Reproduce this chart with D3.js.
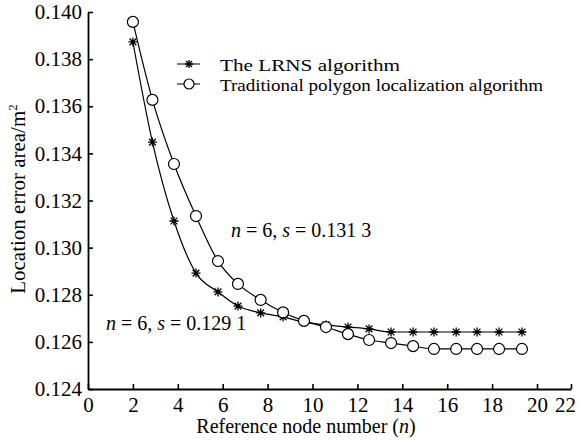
<!DOCTYPE html>
<html>
<head>
<meta charset="utf-8">
<script src="https://cdn.jsdelivr.net/npm/d3@7"></script>
<style>
  body { margin: 0; background: #fff; }
  text { font-family: "Liberation Serif", "Times New Roman", Times, serif; fill: #000; }
</style>
</head>
<body>
<svg class="svg"></svg>
<script>
// values
const nodeNumber = [2, 2.87, 3.83, 4.81, 5.79, 6.68, 7.69, 8.69, 9.62, 10.6, 11.58, 12.52, 13.5, 14.48, 15.41, 16.4, 17.33, 18.31, 19.33];
const lrnsError = [0.13873, 0.13448, 0.13113, 0.12892, 0.12812, 0.12752, 0.12723, 0.12706, 0.12684, 0.12672, 0.12663, 0.12655, 0.12642, 0.12642, 0.12642, 0.12642, 0.12642, 0.12642, 0.12642];
const polygonError = [0.13958, 0.13627, 0.13355, 0.13134, 0.12943, 0.12846, 0.12778, 0.12725, 0.12689, 0.12663, 0.12633, 0.12608, 0.12595, 0.12582, 0.1257, 0.1257, 0.1257, 0.1257, 0.1257];
const xTicks = [0, 2, 4, 6, 8, 10, 12, 14, 16, 18, 20, 22];
const yTicks = [0.124, 0.126, 0.128, 0.130, 0.132, 0.134, 0.136, 0.138, 0.140];
const seriesNames = ['The LRNS algorithm', 'Traditional polygon localization algorithm'];

const width = 578;
const height = 441;

const svg = d3.select('.svg')
  .attr('width', width)
  .attr('height', height);

// the original x axis is squeezed between 20 and 22
const x = d3.scaleLinear().domain([0, 20, 22]).range([88, 537, 571]);
const y = d3.scaleLinear().domain([0.124, 0.140]).range([389, 12]);

const xAxis = svg.append('g')
  .attr('transform', `translate(0,${y(0.124)})`)
  .call(d3.axisBottom(x).tickValues(xTicks).tickFormat(d3.format('d'))
    .tickSizeInner(-5).tickSizeOuter(0).tickPadding(8));

const yAxis = svg.append('g')
  .attr('transform', `translate(${x(0)},0)`)
  .call(d3.axisLeft(y).tickValues(yTicks).tickFormat(d3.format('.3f'))
    .tickSizeInner(-5).tickSizeOuter(0).tickPadding(6));

[xAxis, yAxis].forEach(ax => {
  ax.attr('font-family', null);
  ax.select('.domain').attr('stroke', '#000').attr('stroke-width', 1.8);
  ax.selectAll('.tick line').attr('stroke', '#000').attr('stroke-width', 1.6);
  ax.selectAll('.tick text')
    .attr('font-size', 21)
    .attr('fill', '#000');
});

// last label sits left of its tick in the original
xAxis.selectAll('.tick text').filter(d => d === 22).attr('dx', -6);

// axis titles
const xTitle = svg.append('text')
  .attr('x', 306)
  .attr('y', 433)
  .attr('text-anchor', 'middle')
  .attr('font-size', 20);
xTitle.append('tspan').text('Reference node number (');
xTitle.append('tspan').attr('font-style', 'italic').text('n');
xTitle.append('tspan').text(')');

const yTitle = svg.append('text')
  .attr('transform', 'translate(25,199) rotate(-90)')
  .attr('text-anchor', 'middle')
  .attr('font-size', 21);
yTitle.append('tspan').text('Location error area/m');
yTitle.append('tspan').attr('font-size', 13).attr('dy', -8).text('2');

// curves
const line = d3.line()
  .x((d, i) => x(nodeNumber[i]))
  .y(d => y(d))
  .curve(d3.curveMonotoneX);

const starPath = s => `M${-s},0H${s}M0,${-s}V${s}M${-s * 0.75},${-s * 0.75}L${s * 0.75},${s * 0.75}M${-s * 0.75},${s * 0.75}L${s * 0.75},${-s * 0.75}`;

svg.append('path')
  .attr('d', line(lrnsError))
  .attr('fill', 'none')
  .attr('stroke', '#000')
  .attr('stroke-width', 1.2);

svg.append('path')
  .attr('d', line(polygonError))
  .attr('fill', 'none')
  .attr('stroke', '#000')
  .attr('stroke-width', 1.2);

svg.append('g')
  .selectAll('path')
  .data(lrnsError)
  .join('path')
  .attr('transform', (d, i) => `translate(${x(nodeNumber[i])},${y(d)})`)
  .attr('d', starPath(4.5))
  .attr('stroke', '#000')
  .attr('stroke-width', 1.3);

svg.append('g')
  .selectAll('circle')
  .data(polygonError)
  .join('circle')
  .attr('cx', (d, i) => x(nodeNumber[i]))
  .attr('cy', d => y(d))
  .attr('r', 5.5)
  .attr('fill', '#fff')
  .attr('stroke', '#000')
  .attr('stroke-width', 1.2);

// legend
const legend = svg.append('g').attr('transform', 'translate(177,64)');
seriesNames.forEach((name, i) => {
  const row = legend.append('g').attr('transform', `translate(0,${i * 20})`);
  row.append('line')
    .attr('x1', 0).attr('x2', 23)
    .attr('stroke', '#444').attr('stroke-width', 1.4);
  if (i === 0) {
    row.append('path')
      .attr('transform', 'translate(12,0)')
      .attr('d', starPath(4))
      .attr('stroke', '#000').attr('stroke-width', 1.3);
  } else {
    row.append('circle')
      .attr('cx', 12).attr('r', 5)
      .attr('fill', '#fff').attr('stroke', '#000').attr('stroke-width', 1.2);
  }
  row.append('text')
    .attr('x', 43)
    .attr('y', 7)
    .attr('font-size', 17)
    .attr('textLength', i === 0 ? 180 : 323)
    .attr('lengthAdjust', 'spacingAndGlyphs')
    .text(name);
});

// annotations
const notes = [
  { n: 6, s: '0.131 3', x: 231, y: 237 },
  { n: 6, s: '0.129 1', x: 106, y: 330 }
];
notes.forEach(a => {
  const t = svg.append('text')
    .attr('x', a.x)
    .attr('y', a.y)
    .attr('font-size', 20);
  t.append('tspan').attr('font-style', 'italic').text('n');
  t.append('tspan').text(` = ${a.n}, `);
  t.append('tspan').attr('font-style', 'italic').text('s');
  t.append('tspan').text(` = ${a.s}`);
});
</script>
</body>
</html>
